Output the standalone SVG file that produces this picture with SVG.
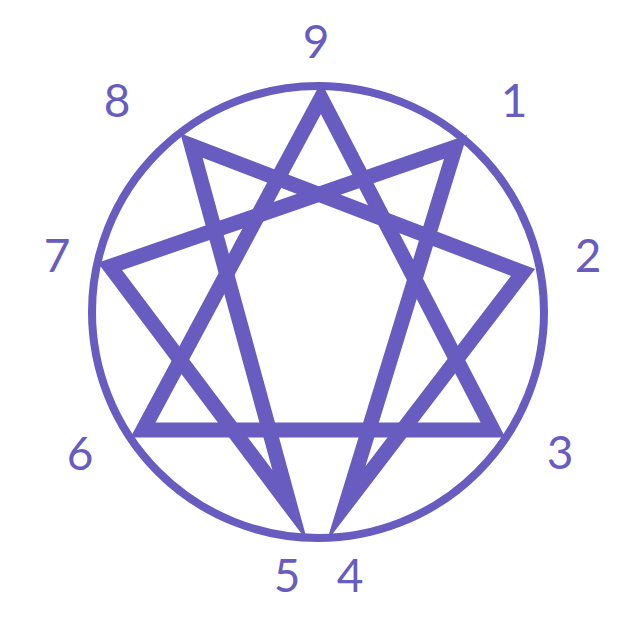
<svg xmlns="http://www.w3.org/2000/svg" width="630" height="630" viewBox="0 0 630 630">
<style>
.ln{fill:none;stroke:#685cc0;stroke-width:15;stroke-linejoin:miter;stroke-miterlimit:12}
.ring{fill:none;stroke:#685cc0;stroke-width:8}
.lb{font-family:Lato,"Liberation Sans",sans-serif;font-size:46px;fill:#685cc0;text-anchor:middle}
</style>
<rect width="630" height="630" fill="#fff"/>
<g id="circle"><circle class="ring" cx="318" cy="312" r="226"/></g>
<g id="connectors">
<polygon class="ln" points="321,98 493,430 143,430"/>
<polygon class="ln" points="455.5,147 346,504 523,272.5 191.5,145.5 290,506 110,266.5"/>
</g>
<g id="n9"><text class="lb" x="316" y="58">9</text></g>
<g id="n1"><text class="lb" x="514" y="117">1</text></g>
<g id="n2"><text class="lb" x="588" y="272">2</text></g>
<g id="n3"><text class="lb" x="560" y="469">3</text></g>
<g id="n4"><text class="lb" x="350" y="592">4</text></g>
<g id="n5"><text class="lb" x="287" y="592">5</text></g>
<g id="n6"><text class="lb" x="80" y="470">6</text></g>
<g id="n7"><text class="lb" x="57" y="272">7</text></g>
<g id="n8"><text class="lb" x="117" y="117">8</text></g>
</svg>
